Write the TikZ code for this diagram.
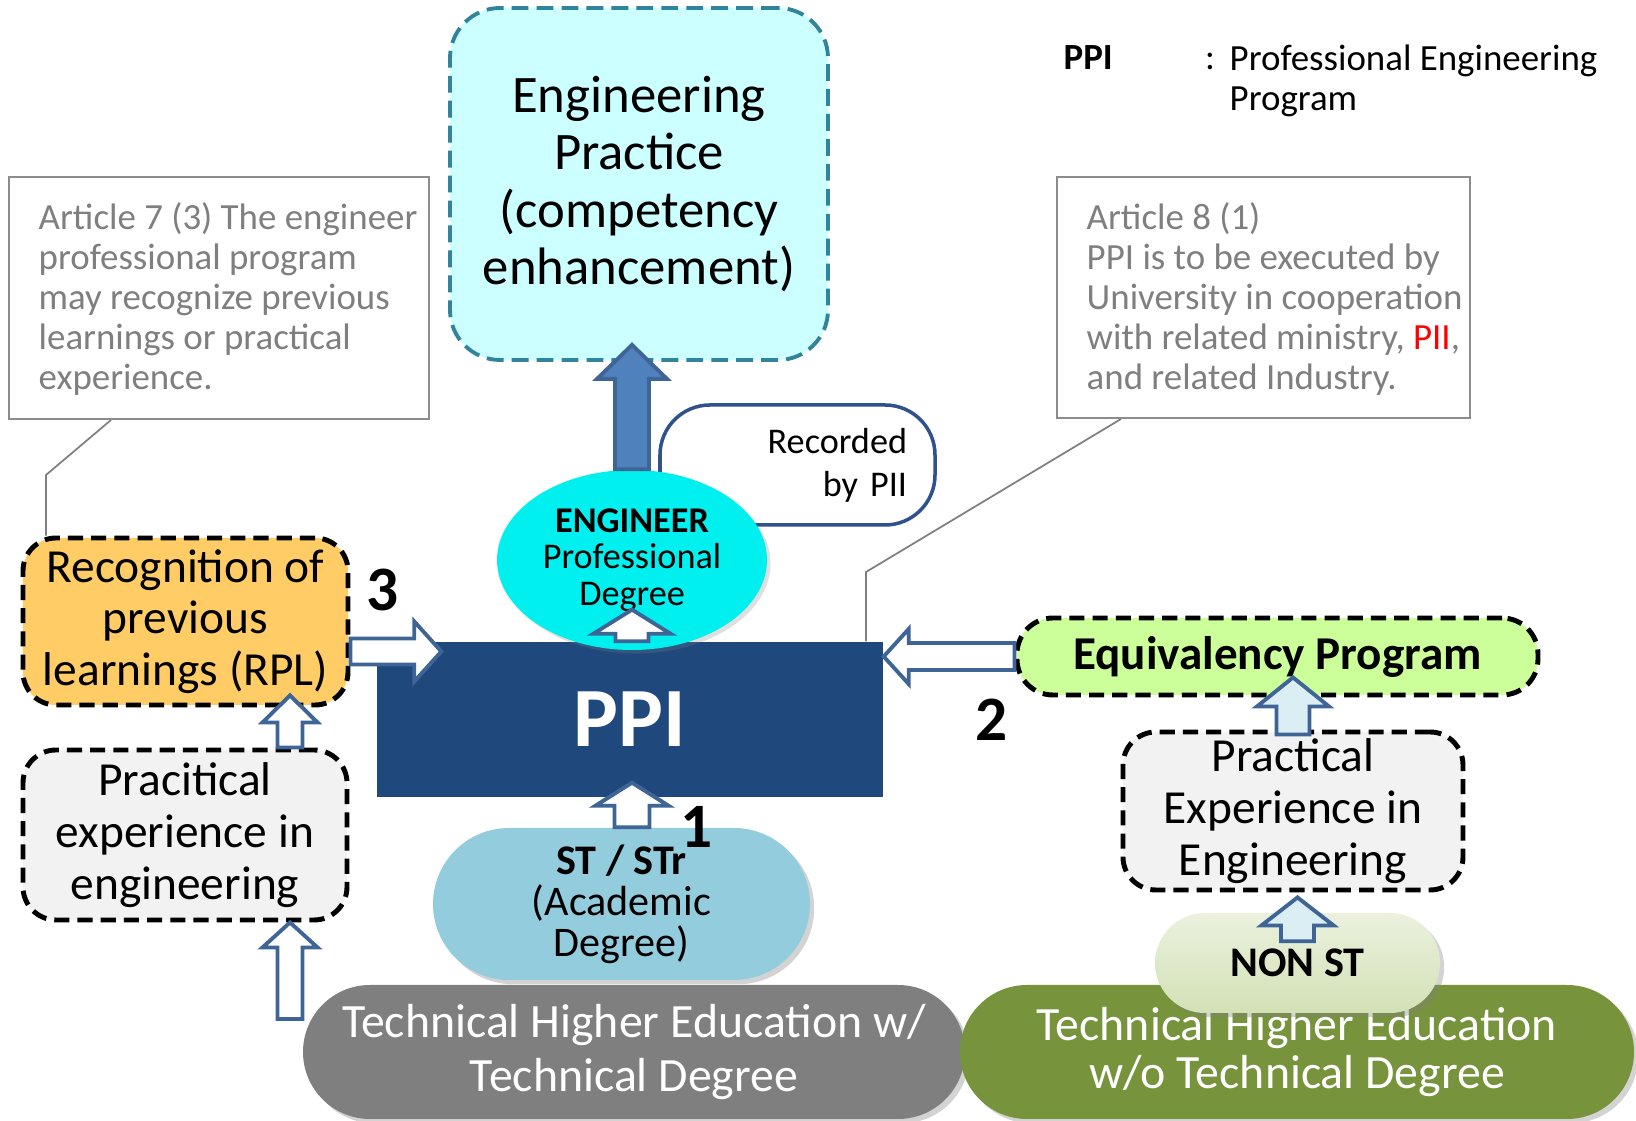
\documentclass[tikz,border=0pt]{standalone}
\usepackage{fontspec}
\setmainfont{Carlito}
\usetikzlibrary{calc,shapes.geometric,shapes.misc,shadows}

\definecolor{ppiblue}{HTML}{1F497D}
\definecolor{arrowblue}{HTML}{4F81BD}
\definecolor{arrowedge}{HTML}{3E6596}
\definecolor{lightarrow}{HTML}{DAEEF3}
\definecolor{practfill}{HTML}{CCFFFF}
\definecolor{practedge}{HTML}{31849B}
\definecolor{engcyan}{HTML}{00F0F0}
\definecolor{stblue}{HTML}{93CDDD}
\definecolor{nonstlight}{HTML}{EBF1DE}
\definecolor{nonstgreen}{HTML}{D3E1B6}
\definecolor{pillgray}{HTML}{7F7F7F}
\definecolor{pillgreen}{HTML}{77933C}
\definecolor{rplorange}{HTML}{FFCC66}
\definecolor{equivgreen}{HTML}{CCFF99}
\definecolor{boxgray}{HTML}{F2F2F2}
\definecolor{arttext}{HTML}{7F7F7F}
\definecolor{artedge}{HTML}{8C8C8C}
\definecolor{recedge}{HTML}{2F528F}

% block arrow: [style]{from}{to}{shaft half width}{head half width}{head length}
\newcommand{\blockarrow}[6][]{%
  \path #2 coordinate (ba-s) #3 coordinate (ba-t);
  \coordinate (ba-h) at ($(ba-t)!#6!(ba-s)$);
  \filldraw[#1] ($(ba-s)!#4!90:(ba-t)$) -- ($(ba-h)!#4!90:(ba-t)$)
    -- ($(ba-h)!#5!90:(ba-t)$) -- (ba-t) -- ($(ba-h)!#5!-90:(ba-t)$)
    -- ($(ba-h)!#4!-90:(ba-t)$) -- ($(ba-s)!#4!-90:(ba-t)$) -- cycle;}

\begin{document}
\begin{tikzpicture}
[box/.style={rectangle,rounded corners=0.33cm,draw=black,line width=1.4pt,
   dash pattern=on 4.3pt off 2.3pt,fill=boxgray,inner sep=0pt,align=center,
   font=\fontsize{13.5}{14.7}\selectfont},
 artbox/.style={rectangle,draw=artedge,line width=0.6pt,inner sep=0pt},
 arttxt/.style={align=left,text=arttext,inner sep=0pt,font=\fontsize{10.5}{11.4}\selectfont},
 pill/.style={rounded rectangle,inner sep=0pt,align=center,
   drop shadow={opacity=0.35,shadow xshift=1.2pt,shadow yshift=-1.2pt}},
 hollow/.style={draw=arrowedge,fill=white,line width=1.1pt},
 lighthollow/.style={hollow,fill=lightarrow},
 bigarrow/.style={draw=arrowedge,fill=arrowblue,line width=1.1pt},
 callout/.style={draw=gray,line width=0.5pt},
 num/.style={font=\fontsize{18}{18}\bfseries\selectfont}]
\useasboundingbox (0,0) rectangle (16.36,-11.21);

% legend
\node[anchor=base west,inner sep=0pt,font=\fontsize{10.5}{11.4}\bfseries\selectfont] (ppikey) at (10.63,-0.70) {PPI};
\node[anchor=base,inner sep=0pt,font=\fontsize{10.5}{11.4}\selectfont] (ppicolon) at (12.10,-0.70) {:};
\node[anchor=west,align=left,inner sep=0pt,font=\fontsize{10.5}{11.4}\selectfont] (ppidef) at (12.29,-0.81) {Professional Engineering\\Program};

% article notes
\node[artbox,minimum width=4.20cm,minimum height=2.42cm] (art7) at (2.19,-2.98) {};
\node[arttxt,anchor=west] (art7txt) at (0.38,-2.99) {Article 7 (3) The engineer\\professional program\\may recognize previous\\learnings or practical\\experience.};
\node[artbox,minimum width=4.13cm,minimum height=2.41cm] (art8) at (12.635,-2.975) {};
\node[arttxt,anchor=west] (art8txt) at (10.86,-2.99) {Article 8 (1)\\PPI is to be executed by\\University in cooperation\\with related ministry, \textcolor{red}{PII},\\and related Industry.};

% main blocks
\node[rectangle,rounded corners=0.5cm,draw=practedge,line width=1.1pt,dash pattern=on 4.8pt off 2.3pt,
  fill=practfill,minimum width=3.78cm,minimum height=3.52cm,align=center,
  font=\fontsize{15}{16.4}\selectfont] (practice) at (6.39,-1.84)
  {Engineering\\Practice\\(competency\\enhancement)};
\node[rectangle,rounded corners=0.5cm,draw=recedge,line width=1pt,fill=white,
  minimum width=2.75cm,minimum height=1.20cm,text width=2.19cm,inner xsep=0.28cm,align=right,
  font=\fontsize{10.3}{12.3}\selectfont] (rec) at (7.975,-4.65) {Recorded\\by PII};
\node[rectangle,fill=ppiblue,minimum width=5.06cm,minimum height=1.55cm,text=white,
  font=\fontsize{24}{24}\bfseries\selectfont] (ppi) at (6.30,-7.195) {PPI};
\node[ellipse,fill=engcyan,minimum width=2.70cm,minimum height=1.80cm,inner sep=0pt,align=center,
  font=\fontsize{10.3}{10.4}\selectfont,drop shadow={opacity=0.25,shadow xshift=1pt,shadow yshift=-1pt}]
  (eng) at (6.32,-5.60) {\textbf{ENGINEER}\\Professional\\Degree};

\node[box,fill=rplorange,minimum width=3.25cm,minimum height=1.67cm] (rpl) at (1.855,-6.215)
  {Recognition of\\previous\\learnings (RPL)};
\node[box,minimum width=3.24cm,minimum height=1.70cm] (lprac) at (1.85,-8.35)
  {Pracitical\\experience in\\engineering};
\node[box,fill=equivgreen,rounded corners=0.36cm,minimum width=5.21cm,minimum height=0.77cm,
  font=\fontsize{13.4}{14}\bfseries\selectfont] (equiv) at (12.775,-6.565) {Equivalency Program};
\node[box,minimum width=3.40cm,minimum height=1.58cm] (rprac) at (12.93,-8.11)
  {Practical\\Experience in\\Engineering};

% bottom pills
\node[pill,fill=pillgray,text=white,minimum width=6.62cm,minimum height=1.34cm,
  font=\fontsize{13.6}{15.6}\selectfont] (thewith) at (6.34,-10.52)
  {Technical Higher Education w/\\Technical Degree};
\node[pill,fill=pillgreen,text=white,minimum width=6.74cm,minimum height=1.34cm,
  font=\fontsize{13.6}{13.9}\selectfont] (thewo) at (12.97,-10.52)
  {Technical Higher Education\\w/o Technical Degree};
\node[pill,fill=stblue,minimum width=3.77cm,minimum height=1.52cm,
  font=\fontsize{12}{11.7}\selectfont] (st) at (6.215,-9.04)
  {\textbf{ST / STr}\\(Academic\\Degree)};
\node[pill,top color=nonstlight,bottom color=nonstgreen,minimum width=2.85cm,minimum height=1.00cm,
  font=\fontsize{12}{12}\bfseries\selectfont] (nonst) at (12.975,-9.63) {NON ST};

% callout lines
\draw[callout] ([xshift=1.03cm]art7.south west) -- (0.46,-4.75) -- (0.46,-4.75 |- rpl.north);
\draw[callout] ([xshift=0.65cm]art8.south west) -- (8.66,-5.72) -- (8.66,-5.72 |- ppi.north);

% arrows
\coordinate (baseleft) at (2.90,-10.19);
\blockarrow[bigarrow]{(eng.north)}{([yshift=0.17cm]eng.north |- practice.south)}{0.17cm}{0.35cm}{0.34cm}
\blockarrow[hollow]{(ppi.north -| eng.south)}{([yshift=0.41cm]eng.south)}{0.165cm}{0.385cm}{0.24cm}
\blockarrow[hollow]{(st.north -| eng.south)}{([yshift=0.15cm]ppi.south -| eng.south)}{0.175cm}{0.365cm}{0.23cm}
\blockarrow[hollow]{([yshift=-0.30cm]rpl.east)}{($(ppi.west |- rpl.east)+(0.65,-0.30)$)}{0.13cm}{0.30cm}{0.27cm}
\blockarrow[hollow]{(equiv.west)}{(ppi.east |- equiv.west)}{0.135cm}{0.275cm}{0.25cm}
\blockarrow[hollow]{([xshift=1.05cm]lprac.north)}{($(lprac.north |- rpl.south)+(1.05,0.12)$)}{0.125cm}{0.275cm}{0.27cm}
\blockarrow[hollow]{(baseleft)}{([xshift=1.05cm]lprac.south)}{0.125cm}{0.275cm}{0.25cm}
\blockarrow[lighthollow]{([yshift=-0.05cm]rprac.north)}{([yshift=0.2cm]rprac.north |- equiv.south)}{0.165cm}{0.36cm}{0.29cm}
\blockarrow[lighthollow]{([yshift=-0.29cm]nonst.north)}{([yshift=-0.05cm]nonst.north |- rprac.south)}{0.165cm}{0.36cm}{0.28cm}

% route numbers
\node[num] (n1) at (6.97,-8.27) {1};
\node[num] (n2) at (9.92,-7.20) {2};
\node[num] (n3) at (3.83,-5.90) {3};
\end{tikzpicture}
\end{document}
